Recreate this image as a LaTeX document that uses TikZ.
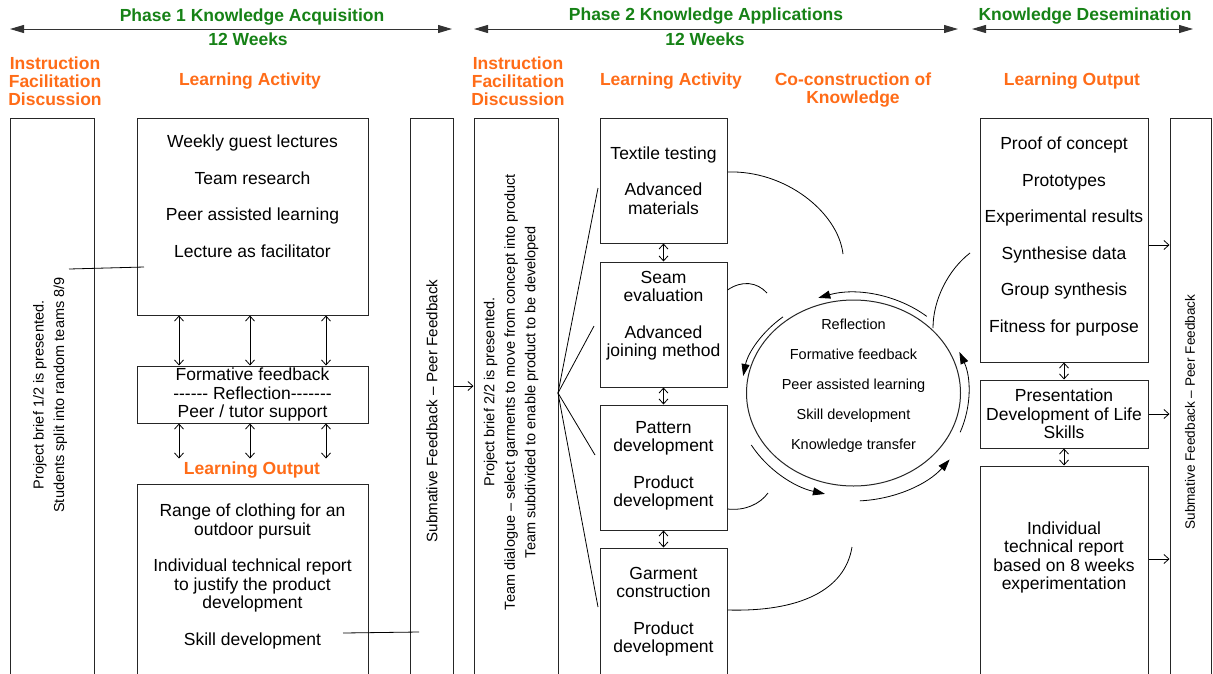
\documentclass[tikz,border=0pt]{standalone}
\usepackage{fontspec}
\setmainfont{Liberation Sans}
\usetikzlibrary{arrows.meta,shapes.geometric,calc}
\definecolor{phasegreen}{RGB}{22,130,22}
\definecolor{headorange}{RGB}{255,108,24}
\begin{document}
\begin{tikzpicture}[x=1pt,y=-1pt,
  box/.style={draw=black!85,line width=1pt,inner sep=0pt},
  txt/.style={align=center,inner sep=0pt,font=\fontsize{17.5}{18.5}\selectfont},
  side/.style={align=center,inner sep=0pt,rotate=90,font=\fontsize{14.5}{20.5}\selectfont},
  cyctext/.style={align=center,inner sep=0pt,font=\fontsize{14.5}{30}\selectfont},
  phase/.style={inner sep=0pt,text=phasegreen,font=\fontsize{17.5}{21}\selectfont\bfseries},
  head/.style={align=center,inner sep=0pt,text=headorange,font=\fontsize{17.5}{18}\selectfont\bfseries},
  phasearrow/.style={line width=1pt,black!80,{Triangle[length=14pt,width=8pt]}-{Triangle[length=14pt,width=8pt]}},
  dbl/.style={line width=0.8pt,{Straight Barb[length=5pt,width=9pt]}-{Straight Barb[length=5pt,width=9pt]}},
  feedarrow/.style={line width=0.8pt,-{Straight Barb[length=5pt,width=9pt]}},
  cyclearrow/.style={line width=0.8pt,-{Triangle[length=12pt,width=8pt]}},
  thinline/.style={line width=0.8pt}]
\clip (0,0) rectangle (1213,673);
\fill[white] (0,0) rectangle (1213,673);

\coordinate (p1l) at (10,29);
\coordinate (p1r) at (452,29);
\coordinate (p2l) at (474,29);
\coordinate (p2r) at (958,29);
\coordinate (p3l) at (972,29);
\coordinate (p3r) at (1193,29);
\draw[phasearrow] (p1l) -- (p1r);
\draw[phasearrow] (p2l) -- (p2r);
\draw[phasearrow] (p3l) -- (p3r);
\node[phase] (ph1) at (252,17) {Phase 1 Knowledge Acquisition};
\node[phase] (wk1) at (248,39) {12 Weeks};
\node[phase] (ph2) at (706,16) {Phase 2 Knowledge Applications};
\node[phase] (wk2) at (705,39) {12 Weeks};
\node[phase] (ph3) at (1085,16) {Knowledge Desemination};

\node[head] (h1) at (55,81) {Instruction\\Facilitation\\Discussion};
\node[head] (h2) at (250,81) {Learning Activity};
\node[head] (h3) at (518,81) {Instruction\\Facilitation\\Discussion};
\node[head] (h4) at (671,81) {Learning Activity};
\node[head] (h5) at (853,90) {Co-construction of\\Knowledge};
\node[head] (h6) at (1072,81) {Learning Output};
\node[head] (h7) at (252,470) {Learning Output};

\node[box,minimum width=84,minimum height=582] (ifd1) at (52,409) {};
\node[box,minimum width=231,minimum height=197] (act1) at (252.5,216.5) {};
\node[box,minimum width=231,minimum height=57] (fb1) at (252.5,394.5) {};
\node[box,minimum width=231,minimum height=216] (out1) at (252.5,592) {};
\node[box,minimum width=43,minimum height=582] (sub1) at (431.5,409) {};
\node[box,minimum width=84,minimum height=582] (ifd2) at (516,409) {};
\node[box,minimum width=127,minimum height=125] (p2a) at (663.5,180.5) {};
\node[box,minimum width=127,minimum height=125] (p2b) at (663.5,324.5) {};
\node[box,minimum width=127,minimum height=125] (p2c) at (663.5,467.5) {};
\node[box,minimum width=127,minimum height=152] (p2d) at (663.5,624) {};
\node[box,ellipse,minimum width=214,minimum height=186] (cyc) at (853.5,393) {};
\node[box,minimum width=168,minimum height=244] (lo) at (1064,240) {};
\node[box,minimum width=168,minimum height=68] (pres) at (1064,414) {};
\node[box,minimum width=168,minimum height=234] (rep) at (1064,583) {};
\node[box,minimum width=41,minimum height=582] (sub2) at (1190.5,409) {};

\node[side] (ifd1t) at (50,395) {Project brief 1/2 is presented.\\Students split into random teams 8/9};
\node[txt] (act1t) at (252.5,196) {Weekly guest lectures\\[18pt]Team research\\[18pt]Peer assisted learning\\[18pt]Lecture as facilitator};
\node[txt] (fb1t) at (252.5,394.5) {Formative feedback\\-{}-{}-{}-{}-{}- Reflection-{}-{}-{}-{}-{}-{}-\\Peer / tutor support};
\node[txt] (out1t) at (252.5,576.5) {Range of clothing for an\\outdoor pursuit\\[18pt]Individual technical report\\to justify the product\\development\\[18pt]Skill development};
\node[side,font=\fontsize{15.2}{20}\selectfont] (sub1t) at (432,411) {Submative Feedback – Peer Feedback};
\node[side] (ifd2t) at (511,392) {Project brief 2/2 is presented.\\Team dialogue – select garments to move from concept into product\\Team subdivided to enable product to be developed};
\node[txt] (p2at) at (663.5,180.5) {Textile testing\\[18pt]Advanced\\materials};
\node[txt] (p2bt) at (663.5,315.5) {Seam\\evaluation\\[18pt]Advanced\\joining method};
\node[txt] (p2ct) at (663.5,466) {Pattern\\development\\[18pt]Product\\development};
\node[txt] (p2dt) at (663.5,611.5) {Garment\\construction\\[18pt]Product\\development};
\node[cyctext] (cyct) at (853.5,386) {Reflection\\Formative feedback\\Peer assisted learning\\Skill development\\Knowledge transfer};
\node[txt] (lot) at (1064,236.5) {Proof of concept\\[18pt]Prototypes\\[18pt]Experimental results\\[18pt]Synthesise data\\[18pt]Group synthesis\\[18pt]Fitness for purpose};
\node[txt] (prest) at (1064,414) {Presentation\\Development of Life\\Skills};
\node[txt] (rept) at (1064,557.5) {Individual\\technical report\\based on 8 weeks\\experimentation};
\node[side,font=\fontsize{13.6}{20}\selectfont] (sub2t) at (1190,412) {Submative Feedback – Peer Feedback};

\foreach \x in {179,250,326} {
  \draw[dbl] (act1.south -| \x,0) -- (fb1.north -| \x,0);
  \draw[dbl] (fb1.south -| \x,0) -- ++(0,35);
}
\coordinate (n1) at (69,269);
\coordinate (n2) at (144,267);
\coordinate (n3) at (343,633);
\coordinate (n4) at (419,632);
\draw[thinline] (n1) -- (n2);
\draw[thinline] (n3) -- (n4);

\coordinate (sw) at (0,386);
\draw[feedarrow] (sub1.east |- sw) -- (ifd2.west |- sw);
\coordinate (fan) at (558,393);
\coordinate (f1) at (598,188);
\coordinate (f2) at (594,326);
\coordinate (f3) at (595,455);
\coordinate (f4) at (598,607);
\foreach \f in {f1,f2,f3,f4}
  \draw[thinline] (fan) -- (\f);

\draw[dbl] (p2a.south) -- (p2b.north);
\draw[dbl] (p2b.south) -- (p2c.north);
\draw[dbl] (p2c.south) -- (p2d.north);

\coordinate (a1) at (843,254);
\coordinate (a2) at (767,293);
\coordinate (a3) at (768,493);
\coordinate (a4) at (852,547);
\coordinate (a5) at (933,328);
\coordinate (a6) at (970,253);
\draw[thinline] ([yshift=8.5pt]p2a.east) .. controls (785,170) and (838,212) .. (a1);
\draw[thinline] ([yshift=34.5pt]p2b.east) .. controls (742,280) and (757,282) .. (a2);
\draw[thinline] ([yshift=-41.5pt]p2c.east) .. controls (745,511) and (760,504) .. (a3);
\draw[thinline] ([yshift=14pt]p2d.east) .. controls (800,612) and (845,590) .. (a4);
\draw[thinline] (a5) .. controls (933,300) and (948,270) .. (a6);

\draw[cyclearrow] ($(cyc.center)+(50:114pt and 100pt)$) arc[start angle=50,end angle=108,x radius=114pt,y radius=100pt];
\draw[cyclearrow] ($(cyc.center)+(129:112pt and 98pt)$) arc[start angle=129,end angle=170,x radius=112pt,y radius=98pt];
\draw[cyclearrow] ($(cyc.center)+(210:118pt and 104pt)$) arc[start angle=210,end angle=256,x radius=118pt,y radius=104pt];
\draw[cyclearrow] ($(cyc.center)+(273:122pt and 108pt)$) arc[start angle=273,end angle=322,x radius=122pt,y radius=108pt];
\draw[cyclearrow] ($(cyc.center)+(-22:115pt and 105pt)$) arc[start angle=-22,end angle=23,x radius=115pt,y radius=105pt];

\draw[dbl] (lo.south) -- (pres.north);
\draw[dbl] (pres.south) -- (rep.north);
\draw[feedarrow] ([yshift=-5pt]lo.east) -- ([yshift=-5pt]lo.east -| sub2.west);
\draw[feedarrow] (pres.east) -- (pres.east -| sub2.west);
\draw[feedarrow] ([yshift=24pt]rep.east) -- ([yshift=24pt]rep.east -| sub2.west);
\end{tikzpicture}
\end{document}
